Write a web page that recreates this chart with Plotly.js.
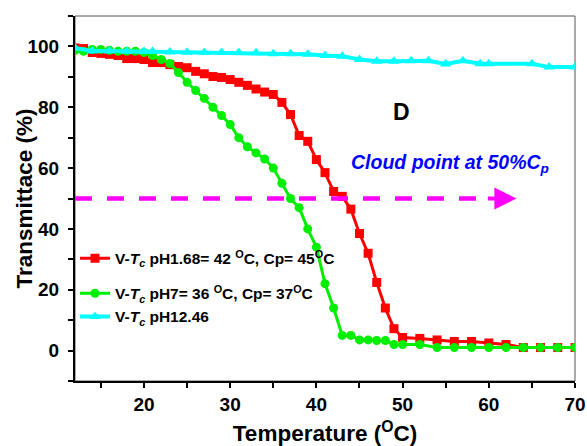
<!DOCTYPE html>
<html>
<head>
<meta charset="utf-8">
<script src="https://cdn.plot.ly/plotly-3.0.1.min.js"></script>
<style>html,body{margin:0;padding:0;background:#fff;}#chart{width:587px;height:446px;}</style>
</head>
<body>
<div id="chart"></div>
<script>
// Series: pH 1.68 (red squares)
var tempRed = [12,13,14,15,16,17,18,19,20,21,22,23,24,25,26,27,28,29,30,31,32,33,34,35,36,37,38,39,40,41,42,43,44,45,46,47,48,49,50,52,54,56,58,60,62,64,66,68,70];
var transRed = [99.5,99.3,98,97.7,97.4,97,96,96,95.7,94.7,94.7,94,93.4,93,91.8,91,90.1,89.8,89.1,88.2,87.2,86,85,84.2,81.6,77.6,70.7,68.8,62.8,58.5,52.3,50.7,46.5,38.5,32,22.4,14,7.2,4.3,4,3.5,3,3,2.5,2,1,1,1,1];
// Series: pH 7 (green circles)
var tempGreen = [12,13,14,15,16,17,18,19,20,21,22,23,24,25,26,27,28,29,30,31,32,33,34,35,36,37,38,39,40,41,42,43,44,45,46,47,48,49,50,52,54,56,58,60,62,64,66,68,70];
var transGreen = [98.7,98.4,99,99,98.7,98.4,98.4,98.4,98,97,95.7,94.4,91.4,88.2,85.5,82.9,80,77.3,74.3,70,67,65,63,60,55,50,47,40,34,22,14,5,5,3.5,3.5,3.3,3.3,2,2,2,1,1,1,1,1,1,1,1,1];
// Series: pH 12.46 (cyan triangles)
var tempCyan = [12,14,16,18,20,21,23,25,27,29,31,33,35,37,39,41,43,45,47,49,51,53,55,57,59,60,65,67,70];
var transCyan = [99.5,98.5,98.5,98.4,98.3,98.3,98.2,98.1,98,98,98,97.9,97.6,97.6,97.4,97,96.8,95.7,95.1,95.1,95.3,95.3,94.2,95.3,94.3,94.3,94.3,93.2,93.2];

var legendNames = [
  "<b>V-<i>T<sub>c</sub></i> pH1.68= 42 <sup>O</sup>C, Cp= 45<sup>O</sup>C</b>",
  "<b>V-<i>T<sub>c</sub></i> pH7= 36 <sup>O</sup>C, Cp= 37<sup>O</sup>C</b>",
  "<b>V-<i>T<sub>c</sub></i> pH12.46</b>"
];
var xTitle = "<b>Temperature (<sup>O</sup>C)</b>";
var yTitle = "<b>Transmittace (%)</b>";
var cloudLevel = 50;
var cloudStart = 12, cloudEnd = 59.6, arrowTip = 63.2;

var FONT = "Arial, 'Liberation Sans', sans-serif";

var traces = [
  {x: tempRed, y: transRed, name: legendNames[0], mode: 'lines+markers', legendgroup: 'a',
   line: {color: '#ff0000', width: 3}, marker: {symbol: 'square', size: 9, color: '#ff0000'}},
  {x: tempGreen, y: transGreen, name: legendNames[1], mode: 'lines+markers', legendgroup: 'b',
   line: {color: '#00ee00', width: 3}, marker: {symbol: 'circle', size: 9, color: '#00ee00'}},
  {x: tempCyan, y: transCyan, name: legendNames[2], mode: 'lines+markers', legendgroup: 'b',
   line: {color: '#00ffff', width: 4}, marker: {symbol: 'triangle-up', size: 10, color: '#00ffff'}}
];

var layout = {
  width: 587, height: 446,
  margin: {l: 75, r: 12, t: 16, b: 65},
  paper_bgcolor: '#fff', plot_bgcolor: '#fff',
  font: {family: FONT, color: '#000'},
  showlegend: true,
  legend: {x: 0, y: 0.382, xanchor: 'left', yanchor: 'top', bgcolor: 'rgba(0,0,0,0)',
           font: {size: 15.5, family: FONT, color: '#000'}, tracegroupgap: 12, traceorder: 'grouped'},
  xaxis: {range: [12, 70], dtick: 10, tick0: 0, showgrid: false, zeroline: false,
          showline: true, linecolor: '#000', linewidth: 2,
          ticks: 'outside', ticklen: 5, tickwidth: 2, tickcolor: '#000',
          minor: {dtick: 5, tick0: 0, ticks: 'outside', ticklen: 5, tickwidth: 2, tickcolor: '#000'},
          tickfont: {size: 19, family: FONT, weight: 'bold'},
          title: {text: xTitle, font: {size: 22.5, family: FONT}, standoff: 12}},
  yaxis: {range: [-10, 110], dtick: 20, tick0: 0, showgrid: false, zeroline: false,
          showline: true, linecolor: '#000', linewidth: 2,
          ticks: 'outside', ticklen: 5, tickwidth: 2, tickcolor: '#000', ticklabelstandoff: 5,
          minor: {dtick: 10, tick0: 0, ticks: 'outside', ticklen: 5, tickwidth: 2, tickcolor: '#000'},
          tickfont: {size: 19, family: FONT, weight: 'bold'}},
  shapes: [
    {type: 'rect', xref: 'paper', yref: 'paper', x0: 0, x1: 1, y0: 0, y1: 1,
     line: {color: '#555', width: 1}, layer: 'below'},
    {type: 'line', xref: 'x', yref: 'y', x0: cloudStart, x1: cloudEnd, y0: cloudLevel, y1: cloudLevel,
     line: {color: '#ff00ff', width: 4.5, dash: '17px,15px'}}
  ],
  annotations: [
    {x: arrowTip, y: cloudLevel, xref: 'x', yref: 'y', ax: -30, ay: 0, showarrow: true,
     arrowhead: 2, arrowsize: 1.1, arrowwidth: 4, arrowcolor: '#ff00ff', text: ''},
    {x: 0.652, y: 0.737, xref: 'paper', yref: 'paper', xanchor: 'center', yanchor: 'middle', showarrow: false,
     text: '<b>D</b>', font: {size: 23, family: FONT, color: '#000'}},
    {x: 0.75, y: 0.597, xref: 'paper', yref: 'paper', xanchor: 'center', yanchor: 'middle', showarrow: false,
     text: '<b><i>Cloud point at 50%C<sub>p</sub></i></b>', font: {size: 19.5, family: FONT, color: '#0000ff'}},
    {x: -0.102, y: 0.5, xref: 'paper', yref: 'paper', xanchor: 'center', yanchor: 'middle', showarrow: false,
     textangle: -90, text: yTitle, font: {size: 22.5, family: FONT, color: '#000'}}
  ]
};

Plotly.newPlot('chart', traces, layout, {displayModeBar: false, staticPlot: true});
</script>
</body>
</html>
